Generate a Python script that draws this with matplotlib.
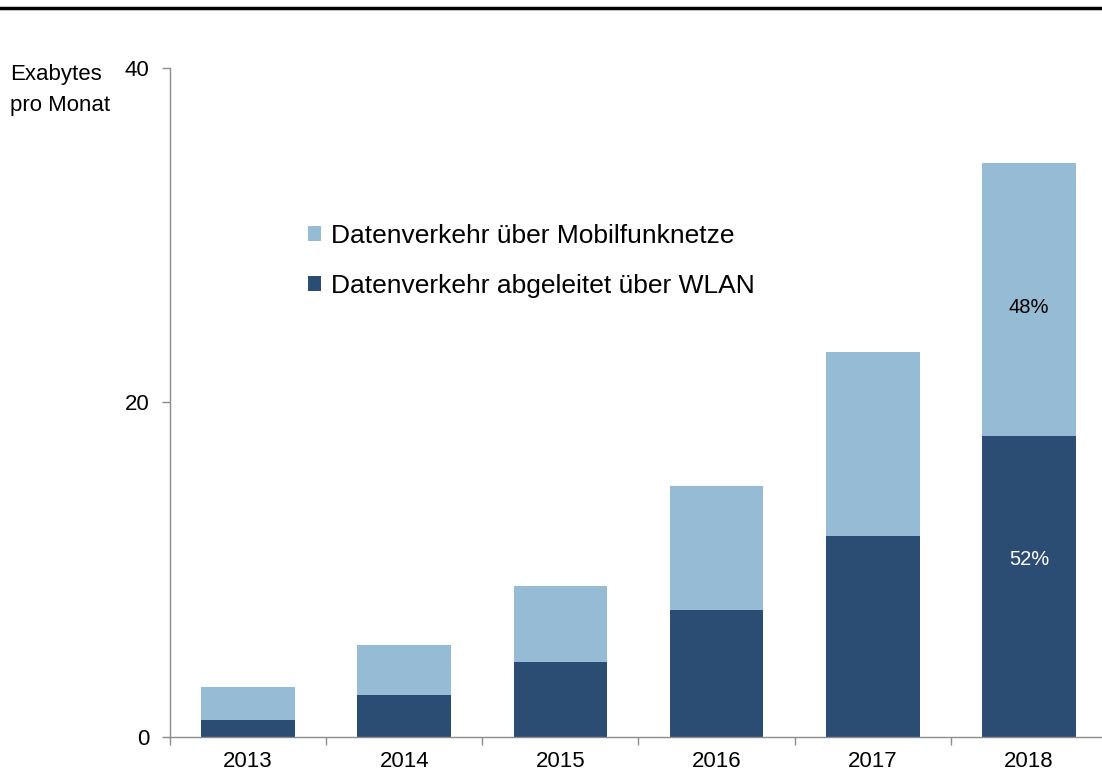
import numpy as np
import matplotlib.pyplot as plt
from matplotlib.lines import Line2D
from matplotlib.patches import Patch

plt.rcParams['font.family'] = ['Liberation Sans', 'DejaVu Sans']

# Data (Exabytes pro Monat)
years = ['2013', '2014', '2015', '2016', '2017', '2018']
wlan = [1.0, 2.5, 4.5, 7.6, 12.0, 18.0]
mobil = [2.0, 3.0, 4.5, 7.4, 11.0, 16.3]
share_labels = ['52%', '48%']

light = '#95BBD5'
dark = '#2B4C73'
axis_gray = '#8C8C8C'

fig = plt.figure(figsize=(11.02, 7.73), dpi=100)
ax = fig.add_axes([0.1543, 0.0466, 0.8502, 0.8655])

x = np.arange(len(years))
ax.bar(x, wlan, width=0.6, color=dark, edgecolor='none')
ax.bar(x, mobil, width=0.6, bottom=wlan, color=light, edgecolor='none')

ax.set_xlim(-0.5, 5.5)
ax.set_ylim(0, 40)
ax.set_yticks([0, 20, 40])
ax.set_xticks(x)
ax.set_xticklabels(years)
ax.set_xticks(np.arange(-0.5, 6.0, 1.0), minor=True)
ax.tick_params(axis='x', which='major', length=0, pad=10, labelsize=16)
ax.tick_params(axis='x', which='minor', length=6, width=1, color=axis_gray, direction='out')
ax.tick_params(axis='y', length=6, width=1, color=axis_gray, pad=9, labelsize=16)

for s in ['top', 'right']:
    ax.spines[s].set_visible(False)
for s in ['left', 'bottom']:
    ax.spines[s].set_color(axis_gray)
    ax.spines[s].set_linewidth(1)

# share labels on the 2018 bar
ax.text(5, 10.6, share_labels[0], ha='center', va='center', fontsize=14.5, color='white')
ax.text(5, 25.7, share_labels[1], ha='center', va='center', fontsize=14.5, color='black')

handles = [Patch(facecolor=light, edgecolor='none'), Patch(facecolor=dark, edgecolor='none')]
labels = ['Datenverkehr über Mobilfunknetze', 'Datenverkehr abgeleitet über WLAN']
ax.legend(handles, labels, loc='upper left', bbox_to_anchor=(0.122, 0.802), frameon=False,
          fontsize=19, handlelength=0.5, handleheight=0.5, handletextpad=0.35,
          labelspacing=0.98)

fig.text(10 / 1102, 0.917, 'Exabytes\npro Monat', ha='left', va='top', fontsize=16,
         linespacing=1.6)

# top rule
fig.add_artist(Line2D([0, 1], [0.9897, 0.9897], transform=fig.transFigure, color='black', lw=2.5))

fig.savefig('out.png', dpi=100)
